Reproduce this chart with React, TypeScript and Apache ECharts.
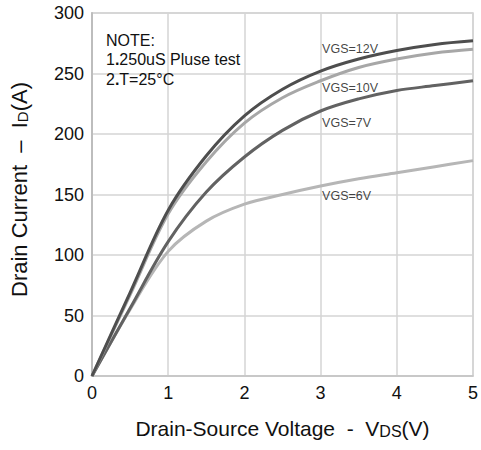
import React, { useEffect, useRef } from "react";
import * as echarts from "echarts";

const vds = [0, 0.5, 1, 1.5, 2, 2.5, 3, 3.5, 4, 4.5, 5];
const id12 = [0, 69, 137, 182, 215, 237, 252, 262, 269, 274, 277];
const id10 = [0, 67, 134, 177, 209, 230, 244, 255, 262, 267, 270];
const id7 = [0, 56, 111, 152, 181, 203, 219, 229, 236, 240, 244];
const id6 = [0, 55, 103, 128, 142, 150, 157, 163, 168, 173, 178];

const curveNames = ["VGS=12V", "VGS=10V", "VGS=7V", "VGS=6V"];
const curveColors = ["#4e4e4e", "#a7a7a7", "#626262", "#b6b6b6"];
const labelPos: [number, number][] = [
  [3.02, 270],
  [3.02, 238],
  [3.02, 209],
  [3.02, 149],
];
const xTicks = [0, 1, 2, 3, 4, 5];
const yTicks = [0, 50, 100, 150, 200, 250, 300];
const noteLines = ["NOTE:", "1{b|.}250uS Pluse test", "2{b|.}T=25°C"];

const FONT = "Liberation Sans, Arial, sans-serif";

export default function App() {
  const ref = useRef<HTMLDivElement>(null);
  useEffect(() => {
    document.body.style.margin = "0";
    if (!ref.current) return;
    const chart = echarts.init(ref.current, undefined, { renderer: "svg" });
    const series: any[] = [id12, id10, id7, id6].map((arr, i) => ({
      type: "line",
      name: curveNames[i],
      data: vds.map((x, j) => [x, arr[j]]),
      smooth: 0.35,
      showSymbol: false,
      symbol: "none",
      lineStyle: { color: curveColors[i], width: 3 },
      z: 3 + (3 - i),
    }));
    series.push({
      type: "scatter",
      symbolSize: 0,
      data: labelPos.map((p, i) => ({ value: p, name: curveNames[i] })),
      label: {
        show: true,
        position: "right",
        distance: 0,
        formatter: (p: any) => p.name,
        color: "#111",
        fontSize: 12.5,
        fontFamily: FONT,
      },
      z: 10,
    });
    chart.setOption({
      animation: false,
      grid: {
        left: 90,
        right: 6,
        top: 13,
        bottom: 74,
        show: true,
        borderColor: "#cfcfcf",
        borderWidth: 1.5,
        backgroundColor: "transparent",
      },
      xAxis: {
        type: "value",
        min: xTicks[0],
        max: xTicks[xTicks.length - 1],
        interval: 1,
        axisLine: { show: true, lineStyle: { color: "#c4c4c4", width: 1.5 } },
        axisTick: { show: false },
        splitLine: { show: true, lineStyle: { color: "#d4d4d4", width: 1.5 } },
        axisLabel: {
          color: "#111",
          fontSize: 18,
          margin: 8,
          fontFamily: FONT,
          showMaxLabel: true,
        },
        name: "Drain-Source Voltage  -  V{sub|DS}(V)",
        nameLocation: "middle",
        nameGap: 42,
        nameTextStyle: {
          color: "#111",
          fontSize: 21,
          fontFamily: FONT,
          rich: {
            sub: {
              fontSize: 16,
              color: "#111",
              fontFamily: FONT,
              padding: [5, 0, 0, 0],
            },
          },
        },
      },
      yAxis: {
        type: "value",
        min: yTicks[0],
        max: yTicks[yTicks.length - 1],
        interval: 50,
        axisLine: { show: true, lineStyle: { color: "#bdbdbd", width: 2 } },
        axisTick: { show: false },
        splitLine: { show: true, lineStyle: { color: "#d4d4d4", width: 1.5 } },
        axisLabel: {
          color: "#111",
          fontSize: 18,
          margin: 8,
          fontFamily: FONT,
        },
        name: "Drain Current  \u2013  I{sub|D}(A)",
        nameLocation: "middle",
        nameGap: 62,
        nameRotate: 90,
        nameTextStyle: {
          color: "#111",
          fontSize: 22,
          fontFamily: FONT,
          padding: [0, 0, 0, 10],
          rich: {
            sub: {
              fontSize: 15,
              color: "#111",
              fontFamily: FONT,
              padding: [6, 0, 0, 0],
            },
          },
        },
      },
      graphic: noteLines.map((t, i) => ({
        type: "text",
        left: 106,
        top: 32 + i * 19.5,
        style: {
          text: t,
          fill: "#111",
          fontSize: 16,
          fontFamily: FONT,
          rich: {
            b: { fontSize: 16, fontWeight: "bold", fill: "#111", fontFamily: FONT },
          },
        },
        z: 20,
      })),
      series,
    });
    return () => chart.dispose();
  }, []);
  return <div ref={ref} style={{ width: 481, height: 450 }} />;
}
